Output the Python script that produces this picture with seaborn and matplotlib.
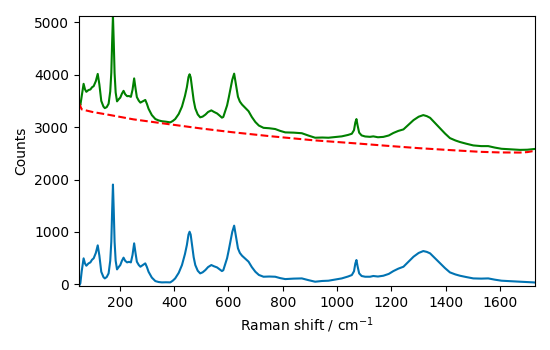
import matplotlib
matplotlib.use("Agg")
import matplotlib.pyplot as plt
import seaborn as sns
import numpy as np

# Raman shift positions (cm^-1)
shift = [50, 55, 60, 67, 72, 77, 85, 92, 98, 104, 112, 119, 125, 132, 140, 145, 152, 159, 165, 169,
         172, 175, 178, 181, 185, 190, 196, 202, 208, 214, 220, 227, 234, 241, 247, 253, 258, 263, 270, 276,
         285, 294, 300, 306, 318, 331, 343, 355, 370, 386, 395, 404, 417, 429, 440, 447, 453, 457, 461, 466,
         472, 478, 487, 496, 505, 515, 525, 537, 547, 558, 567, 576, 581, 586, 595, 601, 607, 614, 621, 628,
         635, 642, 650, 660, 674, 686, 699, 712, 729, 750, 772, 790, 809, 840, 870, 895, 919, 945, 968, 990,
         1017, 1040, 1054, 1062, 1067, 1071, 1075, 1081, 1090, 1103, 1121, 1133, 1150, 1170, 1190, 1207, 1225, 1244, 1262, 1281,
         1300, 1317, 1330, 1342, 1360, 1379, 1397, 1415, 1435, 1452, 1475, 1501, 1530, 1556, 1580, 1605, 1640, 1673, 1700, 1722,
         1728]

# Baseline-corrected spectrum (blue)
corrected = [-30, 20, 250, 497, 400, 356, 400, 420, 470, 497, 600, 745, 550, 241, 140, 114, 140, 210, 450, 815,
             1400, 1905, 1400, 815, 450, 286, 330, 369, 450, 510, 450, 420, 430, 420, 560, 783, 600, 433, 370, 337,
             370, 401, 330, 241, 130, 63, 45, 38, 40, 38, 70, 114, 220, 369, 580, 751, 950, 1005, 950, 751,
             520, 369, 260, 210, 230, 273, 330, 369, 345, 324, 290, 254, 270, 350, 500, 650, 815, 1000, 1121, 900,
             688, 600, 547, 500, 433, 330, 241, 180, 146, 150, 146, 120, 101, 110, 114, 80, 51, 65, 70, 90,
             114, 150, 178, 250, 400, 465, 350, 210, 160, 146, 146, 160, 150, 165, 200, 254, 300, 337, 430, 528,
             600, 636, 620, 592, 500, 401, 310, 229, 190, 165, 140, 114, 110, 114, 90, 70, 60, 51, 45, 38,
             35]

# Raw spectrum (green)
raw = [3500, 3420, 3590, 3828, 3725, 3675, 3709, 3720, 3762, 3783, 3879, 4017, 3817, 3502, 3394, 3364, 3383, 3447, 3681, 4042,
       4625, 5127, 4619, 4031, 3662, 3493, 3532, 3565, 3640, 3694, 3629, 3592, 3595, 3579, 3713, 3931, 3744, 3574, 3506, 3469,
       3495, 3520, 3445, 3352, 3232, 3156, 3129, 3114, 3105, 3092, 3118, 3155, 3252, 3393, 3597, 3763, 3958, 4010, 3952, 3750,
       3514, 3359, 3244, 3188, 3202, 3239, 3290, 3321, 3291, 3263, 3224, 3182, 3195, 3272, 3416, 3562, 3724, 3904, 4022, 3797,
       3581, 3489, 3432, 3379, 3305, 3195, 3099, 3031, 2988, 2980, 2965, 2930, 2901, 2896, 2885, 2839, 2799, 2803, 2799, 2811,
       2825, 2852, 2875, 2944, 3092, 3155, 3039, 2896, 2843, 2823, 2816, 2825, 2808, 2815, 2842, 2890, 2929, 2958, 3044, 3135,
       3200, 3231, 3211, 3179, 3081, 2976, 2879, 2792, 2747, 2717, 2685, 2652, 2639, 2639, 2611, 2588, 2577, 2567, 2570, 2583,
       2585]

# Fitted baseline (red dashed)
base_shift = [50, 55, 60, 100, 160, 250, 380, 500, 613, 750, 913, 1072, 1183, 1300, 1403, 1526, 1600, 1673, 1700, 1728]
baseline = [3460, 3400, 3340, 3290, 3236, 3150, 3058, 2975, 2905, 2830, 2750, 2690, 2645, 2600, 2567, 2530, 2518, 2516, 2525, 2550]

fig, ax = plt.subplots(figsize=(5.5, 3.5), dpi=100)
fig.subplots_adjust(left=0.1436, right=0.9727, top=0.955, bottom=0.183)

sns.lineplot(x=shift, y=corrected, ax=ax, color="#0173b2", linewidth=1.5, estimator=None)
sns.lineplot(x=shift, y=raw, ax=ax, color="green", linewidth=1.5, estimator=None)
sns.lineplot(x=base_shift, y=baseline, ax=ax, color="red", linewidth=1.5, linestyle="--", estimator=None)

ax.margins(x=0, y=0)
ax.set_xlabel("Raman shift / cm$^{-1}$")
ax.set_ylabel("Counts")

fig.savefig("out.png", dpi=100)
